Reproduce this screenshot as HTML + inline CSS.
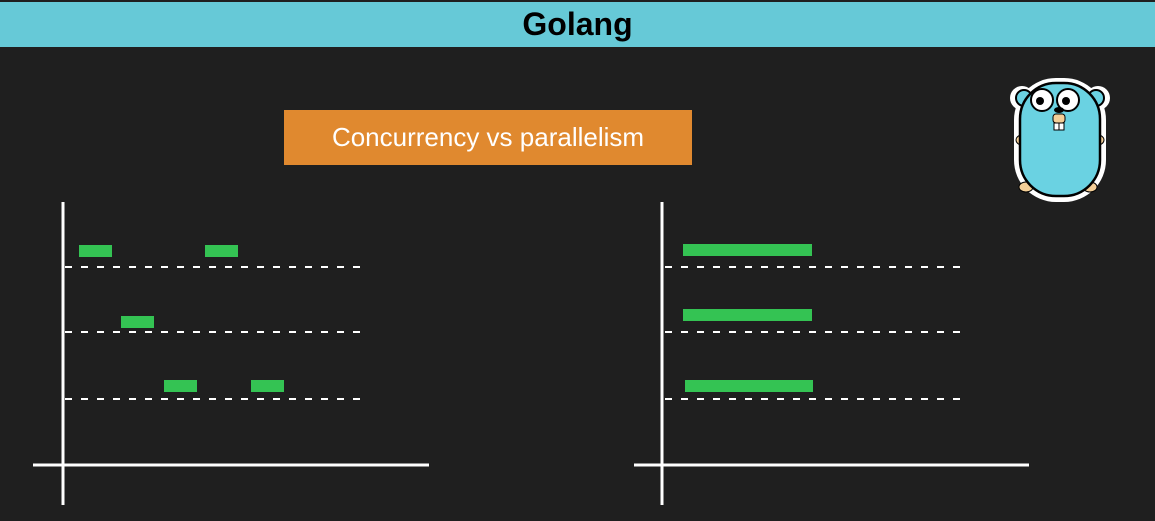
<!DOCTYPE html>
<html><head><style>
body{margin:0;width:1155px;height:521px;background:#1f1f1f;overflow:hidden;position:relative;font-family:"Liberation Sans",sans-serif}
.h{position:absolute;left:0;top:2px;width:1155px;height:45px;background:#66c9d7;text-align:center;font-size:32px;font-weight:bold;line-height:45px;color:#000}
.o{position:absolute;left:284px;top:110px;width:408px;height:55px;background:#e0892f;color:#fff;font-size:26px;line-height:55px;text-align:center}
</style></head><body>
<div class="h">Golang</div>
<div class="o">Concurrency vs parallelism</div>
<svg width="1155" height="521" style="position:absolute;left:0;top:0">
<g stroke="#fff" fill="none">
<line x1="63" y1="202" x2="63" y2="505" stroke-width="3"/>
<line x1="33" y1="465" x2="429" y2="465" stroke-width="3"/>
<line x1="662" y1="202" x2="662" y2="505" stroke-width="3"/>
<line x1="634" y1="465" x2="1029" y2="465" stroke-width="3"/>
<g stroke-width="2" stroke-dasharray="7,9">
<line x1="65" y1="267" x2="362" y2="267"/><line x1="65" y1="332" x2="362" y2="332"/><line x1="65" y1="399" x2="362" y2="399"/>
<line x1="665" y1="267" x2="962" y2="267"/><line x1="665" y1="332" x2="962" y2="332"/><line x1="665" y1="399" x2="962" y2="399"/>
</g></g>
<g fill="#34c353">
<rect x="79" y="245" width="33" height="12"/><rect x="205" y="245" width="33" height="12"/>
<rect x="121" y="316" width="33" height="12"/>
<rect x="164" y="380" width="33" height="12"/><rect x="251" y="380" width="33" height="12"/>
<rect x="683" y="244" width="129" height="12"/><rect x="683" y="309" width="129" height="12"/><rect x="685" y="380" width="128" height="12"/>
</g>
<g transform="translate(1000,70)">
<ellipse cx="22" cy="28" rx="12" ry="12" fill="#fff"/><ellipse cx="98" cy="28" rx="12" ry="12" fill="#fff"/>
<rect x="14" y="8" width="92" height="124" rx="42" fill="#fff"/>
<ellipse cx="24" cy="28" rx="8" ry="8" fill="#6ad2e2" stroke="#000" stroke-width="2"/>
<ellipse cx="96" cy="28" rx="8" ry="8" fill="#6ad2e2" stroke="#000" stroke-width="2"/>
<ellipse cx="26" cy="117" rx="7" ry="5" fill="#f4cf98" stroke="#000"/><ellipse cx="90" cy="117" rx="7" ry="5" fill="#f4cf98" stroke="#000"/>
<ellipse cx="22" cy="70" rx="6" ry="5" fill="#f4cf98" stroke="#000"/><ellipse cx="98" cy="70" rx="6" ry="5" fill="#f4cf98" stroke="#000"/>
<rect x="20" y="13" width="80" height="113" rx="36" fill="#6ad2e2" stroke="#000" stroke-width="2.5"/>
<circle cx="42" cy="30" r="11" fill="#fff" stroke="#000" stroke-width="2"/><circle cx="68" cy="30" r="11" fill="#fff" stroke="#000" stroke-width="2"/>
<circle cx="40" cy="31" r="4" fill="#000"/><circle cx="66" cy="31" r="4" fill="#000"/>
<rect x="53" y="44" width="12" height="9" rx="3" fill="#f4cf98" stroke="#000"/>
<ellipse cx="59" cy="40" rx="5" ry="3" fill="#000"/>
<rect x="54" y="53" width="5" height="7" fill="#fff" stroke="#000"/><rect x="59" y="53" width="5" height="7" fill="#fff" stroke="#000"/>
</g>
</svg>
</body></html>
